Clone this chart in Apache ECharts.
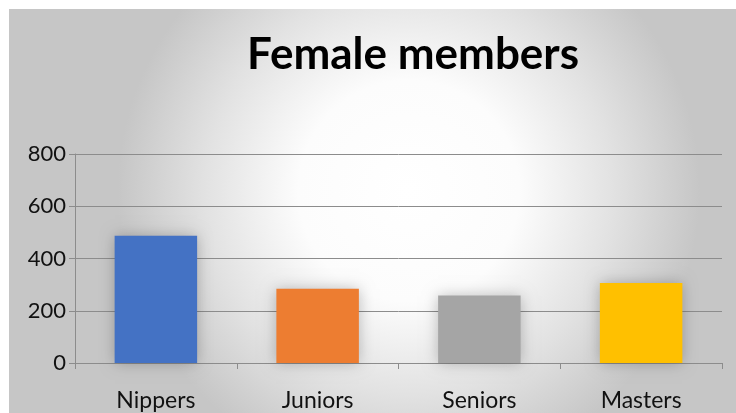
<!DOCTYPE html>
<html>
<head>
<meta charset="utf-8">
<script src="https://cdn.jsdelivr.net/npm/echarts@6/dist/echarts.min.js"></script>
<style>
  html, body { margin: 0; padding: 0; background: #fff; }
  #chart { width: 736px; height: 413px; }
</style>
</head>
<body>
<div id="chart"></div>
<script>
// Female members per category
const categories = ['Nippers', 'Juniors', 'Seniors', 'Masters'];
const members = [487, 284, 258, 306];
const barColors = ['#4472C4', '#ED7D31', '#A5A5A5', '#FFC000'];
const yTicks = { min: 0, max: 800, interval: 200 };

const chart = echarts.init(document.getElementById('chart'));

chart.setOption({
  animation: false,
  graphic: [
    {
      type: 'rect',
      z: -10,
      silent: true,
      shape: { x: 9, y: 9, width: 727, height: 404 },
      style: {
        fill: new echarts.graphic.RadialGradient(0.55, 0.45, 0.72, [
          { offset: 0, color: '#ffffff' },
          { offset: 0.38, color: '#fcfcfc' },
          { offset: 0.7, color: '#e2e2e2' },
          { offset: 1, color: '#c6c6c6' }
        ])
      }
    }
  ],
  title: {
    text: 'Female members',
    left: 408,
    top: 28,
    textAlign: 'center',
    textStyle: {
      fontFamily: 'Lato',
      fontWeight: 'bold',
      fontSize: 44,
      color: '#000'
    }
  },
  grid: { left: 75, right: 14, top: 154, bottom: 50 },
  xAxis: {
    type: 'category',
    data: categories,
    axisLine: { lineStyle: { color: '#8c8c8c', width: 1 } },
    axisTick: { show: true, length: 6, lineStyle: { color: '#8c8c8c' } },
    axisLabel: {
      margin: 26,
      fontFamily: 'Lato',
      fontSize: 23,
      color: '#111'
    }
  },
  yAxis: {
    type: 'value',
    min: yTicks.min,
    max: yTicks.max,
    interval: yTicks.interval,
    axisLine: { show: true, lineStyle: { color: '#8c8c8c' } },
    axisTick: { show: true, length: 6, lineStyle: { color: '#8c8c8c' } },
    splitLine: { lineStyle: { color: '#8c8c8c' } },
    axisLabel: {
      margin: 9,
      fontFamily: 'Lato',
      fontSize: 22,
      color: '#111'
    }
  },
  series: [
    {
      type: 'bar',
      barWidth: '51%',
      data: members.map((v, i) => ({
        value: v,
        itemStyle: { color: barColors[i] }
      })),
      itemStyle: {
        shadowBlur: 14,
        shadowColor: 'rgba(0,0,0,0.25)'
      }
    }
  ]
});
</script>
</body>
</html>
